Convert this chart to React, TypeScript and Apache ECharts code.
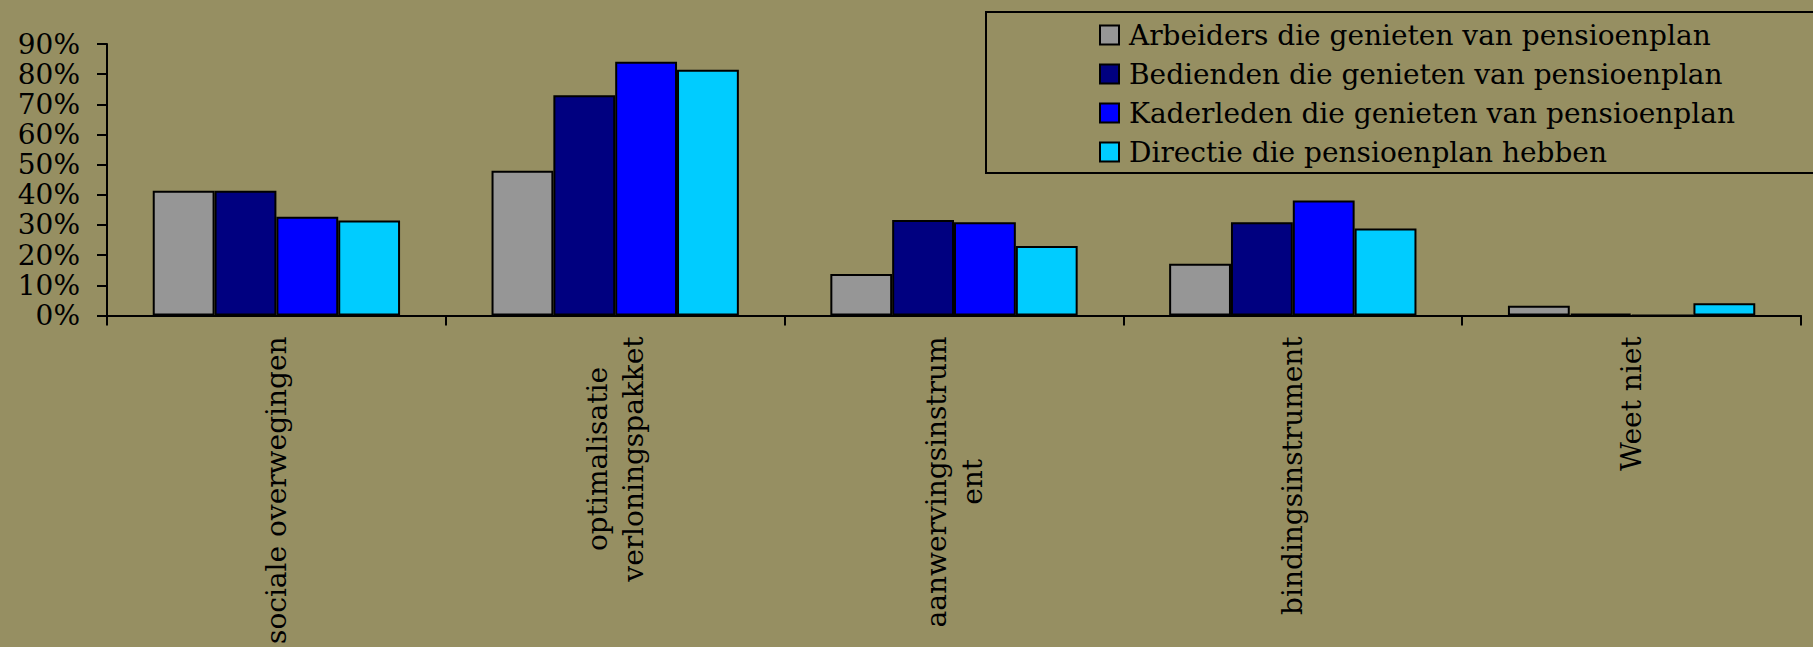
import React, { useEffect, useRef } from 'react';
import * as echarts from 'echarts';

const categories = [
  'sociale overwegingen',
  'optimalisatie\nverloningspakket',
  'aanwervingsinstrum\nent',
  'bindingsinstrument',
  'Weet niet',
];
const seriesNames = [
  'Arbeiders die genieten van pensioenplan',
  'Bedienden die genieten van pensioenplan',
  'Kaderleden die genieten van pensioenplan',
  'Directie die pensioenplan hebben',
];
const arbeiders = [41.3, 48.0, 13.7, 17.1, 3.2];
const bedienden = [41.3, 73.0, 31.6, 30.9, 0.6];
const kaderleden = [32.7, 84.1, 30.9, 38.1, 0];
const directie = [31.5, 81.5, 23.0, 28.8, 4.0];
const seriesColors = ['#969696', '#000080', '#0000ff', '#00ccff'];
const yMin = 0;
const yMax = 90;
const yInterval = 10;

const FONT = 'DejaVu Serif';
const BG = '#968f62';

export default function App() {
  const ref = useRef<HTMLDivElement>(null);
  useEffect(() => {
    if (!ref.current) return;
    const chart = echarts.init(ref.current, undefined, { renderer: 'svg' });
    const values = [arbeiders, bedienden, kaderleden, directie];
    chart.setOption({
      animation: false,
      backgroundColor: BG,
      textStyle: { fontFamily: FONT },
      grid: { left: 107, right: 12, top: 44, bottom: 326, containLabel: false },
      legend: {
        orient: 'vertical',
        left: 1099,
        top: 21,
        padding: 0,
        icon: 'rect',
        itemWidth: 19,
        itemHeight: 19,
        itemGap: 11,
        selectedMode: false,
        itemStyle: { borderColor: '#000', borderWidth: 2 },
        textStyle: {
          fontFamily: FONT,
          fontSize: 28,
          color: '#000',
          padding: [0, 0, 0, 5],
        },
        data: seriesNames,
      },
      graphic: [
        {
          type: 'rect',
          shape: { x: 986, y: 12, width: 900, height: 161 },
          style: { fill: 'transparent', stroke: '#000', lineWidth: 2 },
          z: -1,
        },
      ],
      xAxis: {
        type: 'category',
        data: categories,
        axisLine: { lineStyle: { color: '#000', width: 2 } },
        axisTick: { show: true, interval: 0, length: 10, lineStyle: { color: '#000', width: 2 } },
        axisLabel: {
          interval: 0,
          rotate: 90,
          margin: 21,
          color: '#000',
          fontFamily: FONT,
          fontSize: 28,
          lineHeight: 36,
          formatter: (v: string) => v.split('\n').map((s) => `{c|${s}}`).join('\n'),
          rich: {
            c: { align: 'center', fontFamily: FONT, fontSize: 28, lineHeight: 36, color: '#000' },
          },
        },
      },
      yAxis: {
        type: 'value',
        min: yMin,
        max: yMax,
        interval: yInterval,
        axisLine: { show: true, lineStyle: { color: '#000', width: 2 } },
        axisTick: { show: true, length: 10, lineStyle: { color: '#000', width: 2 } },
        splitLine: { show: false },
        axisLabel: {
          margin: 27,
          color: '#000',
          fontFamily: FONT,
          fontSize: 28,
          formatter: '{value}%',
        },
      },
      series: seriesNames.map((name, i) => ({
        name,
        type: 'bar',
        data: values[i],
        barGap: '0%',
        barCategoryGap: '27%',
        itemStyle: { color: seriesColors[i], borderColor: '#000', borderWidth: 2 },
      })),
    });
    return () => chart.dispose();
  }, []);
  return (
    <div
      ref={ref}
      style={{ position: 'fixed', left: 0, top: 0, width: 1813, height: 647 }}
    />
  );
}
